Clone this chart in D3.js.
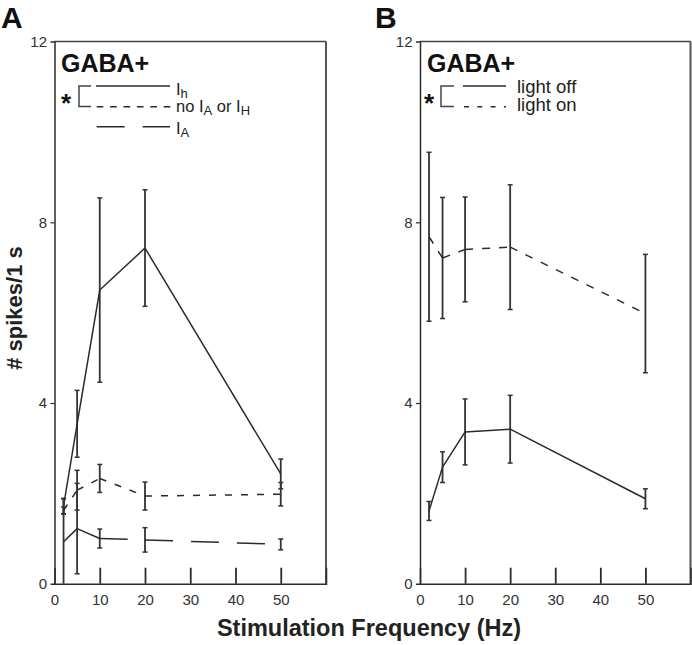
<!DOCTYPE html>
<html><head><meta charset="utf-8">
<script src="https://cdn.jsdelivr.net/npm/d3@7"></script>
<style>
body{margin:0;background:#fff;}
svg text{font-family:"Liberation Sans",Arial,Helvetica,sans-serif;}
</style></head>
<body><svg id="c" width="692" height="645"></svg>
<script>
// ---- data ----
const freqs = [2, 5, 10, 20, 50];
const xTicks = [0, 10, 20, 30, 40, 50];
const yTicks = [0, 4, 8, 12];

const aIh = [1.72, 3.54, 6.50, 7.43, 2.43];
const aIhErr = [0.17, 0.74, 2.04, 1.29, 0.33];
const aNone = [1.62, 2.07, 2.33, 1.94, 1.98];
const aNoneErr = [0.08, 0.44, 0.31, 0.31, 0.26];
const aIA = [0.93, 1.22, 1.00, 0.97, 0.87];
const aIAErr = [0.95, 1.00, 0.21, 0.27, 0.12];

const bOff = [1.61, 2.58, 3.36, 3.42, 1.88];
const bOffErr = [0.21, 0.34, 0.73, 0.75, 0.22];
const bOn = [7.68, 7.21, 7.40, 7.45, 5.98];
const bOnErr = [1.87, 1.34, 1.16, 1.38, 1.31];

const svg = d3.select("#c");
const ink = "#2b2b2b";

const y = d3.scaleLinear().domain([0, 12]).range([583.7, 41.6]);

function panel(x0, x1, series) {
  const x = d3.scaleLinear().domain([0, 60]).range([x0, x1]);
  const g = svg.append("g");
  // frame
  g.append("line").attr("x1", x1).attr("x2", x1).attr("y1", y(12)).attr("y2", y(0))
    .attr("stroke", "#555").attr("stroke-width", 2);
  g.append("line").attr("x1", x0).attr("x2", x1).attr("y1", y(12)).attr("y2", y(12))
    .attr("stroke", "#444").attr("stroke-width", 1.5);
  // axes
  const ya = g.append("g").attr("transform", `translate(${x0},0)`)
    .call(d3.axisLeft(y).tickValues(yTicks).tickSize(4).tickPadding(3.5).tickFormat(d3.format("d")));
  ya.select(".domain").attr("stroke", ink).attr("stroke-width", 1.5);
  ya.selectAll(".tick line").attr("stroke", ink).attr("stroke-width", 1.2)
    .attr("display", d => (d === 0 || d === 12) ? "none" : null);
  ya.selectAll(".tick text").attr("font-size", 15).attr("fill", "#333")
    .attr("font-family", "Liberation Sans, Arial, sans-serif");
  const xa = g.append("g").attr("transform", `translate(0,${y(0)})`)
    .call(d3.axisBottom(x).tickValues(xTicks).tickSize(-16).tickPadding(11).tickFormat(d3.format("d")));
  xa.select(".domain").attr("stroke", ink).attr("stroke-width", 1.5);
  xa.selectAll(".tick line").attr("stroke", ink).attr("stroke-width", 1.8)
    .attr("display", d => d === 0 ? "none" : null);
  xa.selectAll(".tick text").attr("font-size", 15).attr("fill", "#333")
    .attr("font-family", "Liberation Sans, Arial, sans-serif");

  const line = d3.line().x(d => x(d[0])).y(d => y(d[1]));
  series.forEach(s => {
    // error bars
    freqs.forEach((f, i) => {
      const lo = Math.max(0, s.v[i] - s.e[i]), hi = s.v[i] + s.e[i];
      g.append("line").attr("x1", x(f)).attr("x2", x(f)).attr("y1", y(lo)).attr("y2", y(hi))
        .attr("stroke", "#333").attr("stroke-width", 1.8);
      [lo, hi].forEach(v => {
        if (v <= 0) return;
        g.append("line").attr("x1", x(f) - 2.5).attr("x2", x(f) + 2.5).attr("y1", y(v)).attr("y2", y(v))
          .attr("stroke", "#333").attr("stroke-width", 1.5);
      });
    });
    // line segments (dash restarts on each segment)
    for (let i = 0; i < freqs.length - 1; i++) {
      g.append("path").attr("d", line([[freqs[i], s.v[i]], [freqs[i + 1], s.v[i + 1]]]))
        .attr("fill", "none").attr("stroke", ink).attr("stroke-width", 1.5)
        .attr("stroke-dasharray", s.dash);
    }
  });
  return g;
}

panel(54.5, 326, [
  {v: aIh, e: aIhErr, dash: null},
  {v: aNone, e: aNoneErr, dash: "7,9"},
  {v: aIA, e: aIAErr, dash: "28,18"}
]);
panel(420, 690.5, [
  {v: bOff, e: bOffErr, dash: null},
  {v: bOn, e: bOnErr, dash: "8,9"}
]);

// panel letters
svg.append("text").attr("x", 1).attr("y", 28).attr("font-size", 30).attr("font-weight", "bold").attr("fill", "#111").text("A");
svg.append("text").attr("x", 375).attr("y", 28).attr("font-size", 30).attr("font-weight", "bold").attr("fill", "#111").text("B");

// legends
function legend(x0, rows, bracketX, starX) {
  svg.append("text").attr("x", x0).attr("y", 72).attr("font-size", 25).attr("font-weight", "bold").attr("fill", "#111").text("GABA+");
  svg.append("text").attr("x", starX).attr("y", 112).attr("font-size", 26).attr("font-weight", "bold").attr("fill", "#111").text("*");
  svg.append("path").attr("d", `M${bracketX[1]},86H${bracketX[0]}V106.5H${bracketX[1]}`)
    .attr("fill", "none").attr("stroke", "#444").attr("stroke-width", 1.5);
  rows.forEach(r => {
    svg.append("line").attr("x1", r.x1).attr("x2", r.x2).attr("y1", r.y).attr("y2", r.y)
      .attr("stroke", ink).attr("stroke-width", 1.5).attr("stroke-dasharray", r.dash);
    const t = svg.append("text").attr("x", r.tx).attr("y", r.ty).attr("font-size", r.fs).attr("fill", "#222");
    r.parts.forEach(p => {
      const ts = t.append("tspan").text(p[0]);
      if (p[1]) ts.attr("font-size", 13).attr("dy", 3);
      else if (p[2]) ts.attr("dy", -3);
    });
  });
}
legend(61, [
  {x1: 96, x2: 170, y: 86, dash: null, tx: 176, ty: 94.5, fs: 16.5, parts: [["I"], ["h", true]]},
  {x1: 96.7, x2: 171, y: 106.7, dash: "6.7,6.7", tx: 176, ty: 111.5, fs: 16.5, parts: [["no I"], ["A", true], [" or I", false, true], ["H", true]]},
  {x1: 96.7, x2: 170, y: 126.7, dash: "28,18", tx: 176, ty: 134, fs: 16.5, parts: [["I"], ["A", true]]}
], [79, 91], 61);
legend(427, [
  {x1: 463, x2: 506, y: 86, dash: null, tx: 517, ty: 92.5, fs: 18.5, parts: [["light off"]]},
  {x1: 464, x2: 506, y: 106.7, dash: "5,8.3", tx: 517, ty: 110.5, fs: 18.5, parts: [["light on"]]}
], [441, 454], 424);

// axis titles
svg.append("text").attr("x", 369).attr("y", 636).attr("text-anchor", "middle").attr("font-size", 23.5)
  .attr("font-weight", "bold").attr("fill", "#222").text("Stimulation Frequency (Hz)");
svg.append("text").attr("transform", "translate(22,308) rotate(-90)").attr("text-anchor", "middle")
  .attr("font-size", 22).attr("font-weight", "bold").attr("fill", "#222").text("# spikes/1 s");
</script></body></html>
